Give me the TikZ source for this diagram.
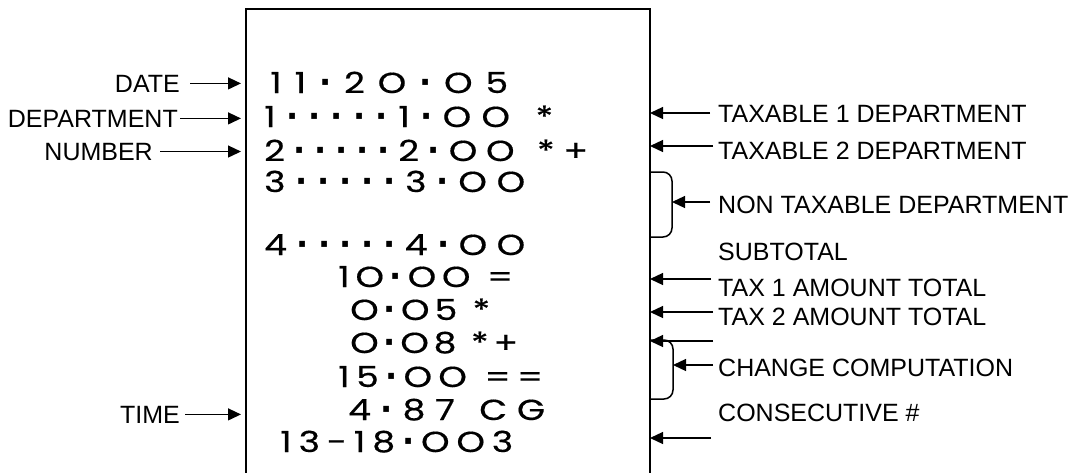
\documentclass[tikz,border=0pt]{standalone}
\usepackage{fontspec}
\setmainfont{Liberation Sans}
\newfontfamily\rcpt{Poppins}[FakeStretch=1.25,FakeBold=0.45]
\newfontfamily\dvs{DejaVu Sans}
\usetikzlibrary{arrows.meta}
\ExplSyntaxOn
\NewDocumentCommand\spreadtxt{m m}{\makebox[#1][s]{\tl_map_inline:nn{#2}{##1\hfil}\unskip}}
\ExplSyntaxOff
\newcommand\md{{\dvs\bfseries\fontsize{32}{32}\selectfont ·}}
\newcommand\gap[1]{{\hspace{5pt}#1}}
\begin{document}
\begin{tikzpicture}[x=1pt,y=-1pt,
  lbl/.style={font=\fontsize{25}{30}\selectfont, inner sep=0pt},
  rc/.style={font=\rcpt\fontsize{29}{32}\selectfont, inner sep=0pt, anchor=base west},
  ptr/.style={line width=1.3pt, -{Triangle[length=13pt,width=12pt]}},
  brc/.style={line width=1.5pt, rounded corners=9pt}]
\useasboundingbox (0,0) rectangle (1085,472);
% receipt paper
\draw[line width=2pt] (246,474) -- (246,9) -- (650,9) -- (650,474);
\coordinate (boxL) at (241,0);
% receipt lines
\node[rc] (r1) at (270,93) {\spreadtxt{238pt}{11\md 2O\md O5}};
\node[rc] (r2) at (264,127) {\spreadtxt{289pt}{1\md\md\md\md\md 1\md OO\gap{*}}};
\node[rc] (r3) at (264,161) {\spreadtxt{324pt}{2\md\md\md\md\md 2\md OO\gap{*}+}};
\node[rc] (r4) at (264,192) {\spreadtxt{261pt}{3\md\md\md\md\md 3\md OO}};
\node[rc] (r5) at (264,255) {\spreadtxt{261pt}{4\md\md\md\md\md 4\md OO}};
\node[rc] (r6) at (338,287) {\spreadtxt{175pt}{1O\md OO\gap{=}}};
\node[rc] (r7) at (350,320) {\spreadtxt{140pt}{O\md O5\gap{*}}};
\node[rc] (r8) at (350,353) {\spreadtxt{168pt}{O\md O8\gap{*}+}};
\node[rc] (r9) at (338,387) {\spreadtxt{205pt}{15\md OO\gap{=}=}};
\node[rc] (r10) at (348,420) {\spreadtxt{197pt}{4\md 87\gap{C}G}};
\node[rc] (r11) at (280,452) {\spreadtxt{233pt}{13-18\md OO3}};
% left labels
\node[lbl,anchor=base east] (date) at (180,92) {DATE};
\node[lbl,anchor=base east] (dept) at (178,127) {DEPARTMENT};
\node[lbl,anchor=base east] (num) at (153,160) {NUMBER};
\node[lbl,anchor=base east] (time) at (180,423) {TIME};
\draw[ptr] ([xshift=10pt]date.east) -- (date.east -| boxL);
\draw[ptr] ([xshift=2pt]dept.east) -- (dept.east -| boxL);
\draw[ptr] ([xshift=7pt]num.east) -- (num.east -| boxL);
\draw[ptr] ([xshift=5pt]time.east) -- (time.east -| boxL);
% right labels
\node[lbl,anchor=base west] (tx1) at (718,122) {TAXABLE 1 DEPARTMENT};
\node[lbl,anchor=base west] (tx2) at (718,159) {TAXABLE 2 DEPARTMENT};
\node[lbl,anchor=base west] (ntx) at (718,213) {NON TAXABLE DEPARTMENT};
\node[lbl,anchor=base west] (sub) at (718,260) {SUBTOTAL};
\node[lbl,anchor=base west] (tax1) at (718,296) {TAX 1 AMOUNT TOTAL};
\node[lbl,anchor=base west] (tax2) at (718,325) {TAX 2 AMOUNT TOTAL};
\node[lbl,anchor=base west] (chg) at (718,376) {CHANGE COMPUTATION};
\node[lbl,anchor=base west] (cons) at (718,421) {CONSECUTIVE \#};
% right arrows
\coordinate (a1s) at (710,113); \coordinate (a1e) at (650,113);
\coordinate (a2s) at (713,146); \coordinate (a2e) at (650,146);
\coordinate (a3s) at (710,202); \coordinate (a3e) at (672,202);
\coordinate (a4s) at (711,279); \coordinate (a4e) at (650,279);
\coordinate (a5s) at (713,312); \coordinate (a5e) at (650,312);
\coordinate (a6s) at (713,341); \coordinate (a6e) at (650,341);
\coordinate (a7s) at (713,365); \coordinate (a7e) at (673,365);
\coordinate (a8s) at (711,438); \coordinate (a8e) at (650,438);
\foreach \i in {1,...,8}{\draw[ptr] (a\i s) -- (a\i e);}
% braces
\draw[brc] (650,172) -- (672,172) -- (672,237) -- (650,237);
\draw[brc] (650,340) -- (673,340) -- (673,399) -- (650,399);
\end{tikzpicture}
\end{document}
